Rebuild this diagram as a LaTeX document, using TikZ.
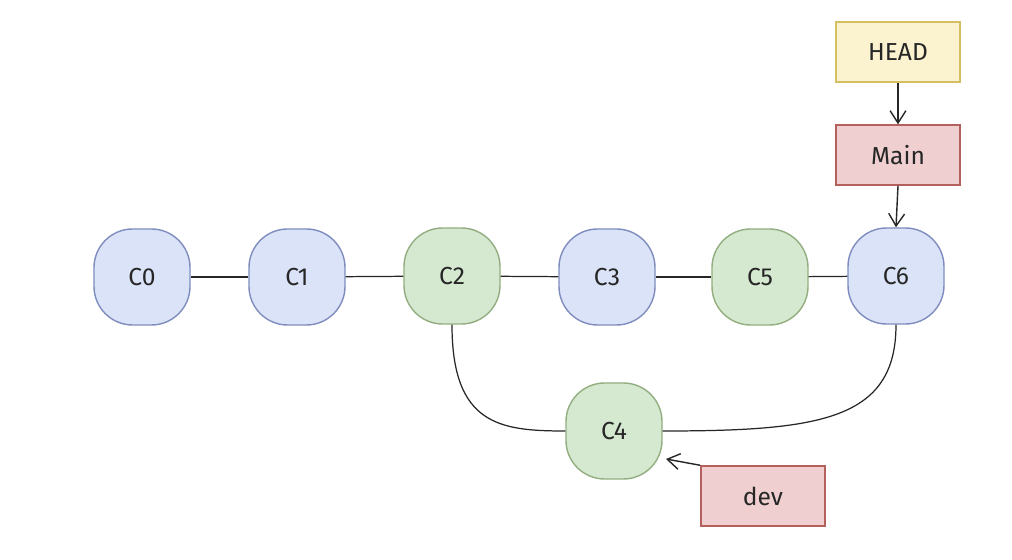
\documentclass[tikz,border=0pt]{standalone}
\usepackage{fontspec}
\setmainfont{Fira Sans}
\usetikzlibrary{arrows.meta}
\definecolor{bluefill}{HTML}{DAE3F7}
\definecolor{bluedraw}{HTML}{7E8DBE}
\definecolor{greenfill}{HTML}{D5E8D0}
\definecolor{greendraw}{HTML}{93AE80}
\definecolor{yellowfill}{HTML}{FBF3CF}
\definecolor{yellowdraw}{HTML}{D6BE62}
\definecolor{redfill}{HTML}{EFCFCF}
\definecolor{reddraw}{HTML}{B4615E}
\tikzset{
  commit/.style={draw, line width=0.8pt, rounded corners=22pt, minimum width=96*0.02cm, minimum height=96*0.02cm, inner sep=0pt, font=\fontsize{14}{16}\selectfont, text=black!85},
  bluec/.style={commit, fill=bluefill, draw=bluedraw},
  greenc/.style={commit, fill=greenfill, draw=greendraw},
  label box/.style={draw, line width=0.8pt, minimum width=124*0.02cm, minimum height=60*0.02cm, inner sep=0pt, font=\fontsize{14}{16}\selectfont, text=black!85},
  headbox/.style={label box, fill=yellowfill, draw=yellowdraw},
  branchbox/.style={label box, fill=redfill, draw=reddraw},
  link/.style={draw=black!85, line width=0.7pt},
  ptr/.style={draw=black!85, line width=0.8pt, -{Straight Barb[length=7pt,width=9pt]}},
}
\begin{document}
\begin{tikzpicture}[x=0.02cm, y=-0.02cm]
\path[use as bounding box, fill=white] (0,0) rectangle (1012,560);
\node[bluec]  (c0) at (142,277) {C0};
\node[bluec]  (c1) at (297,277) {C1};
\node[greenc] (c2) at (452,276) {C2};
\node[bluec]  (c3) at (607,277) {C3};
\node[greenc] (c5) at (760,277) {C5};
\node[bluec]  (c6) at (896,276) {C6};
\node[greenc] (c4) at (614,431) {C4};
\node[headbox]   (head) at (898,52) {HEAD};
\node[branchbox] (main) at (898,155) {Main};
\node[branchbox] (dev)  at (763,496) {dev};
\draw[link] (c0) -- (c1);
\draw[link] (c1) -- (c2);
\draw[link] (c2) -- (c3);
\draw[link] (c3) -- (c5);
\draw[link] (c5) -- (c6);
\draw[link] (c2.south) .. controls (452,425) and (500,431) .. (c4.west);
\draw[link] (c6.south) .. controls (896,420) and (820,431) .. (c4.east);
\draw[ptr] (head.south) -- (main.north);
\draw[ptr] (main.south) -- (c6.north);
\draw[ptr] (dev.north west) -- (666,459);
\end{tikzpicture}
\end{document}
